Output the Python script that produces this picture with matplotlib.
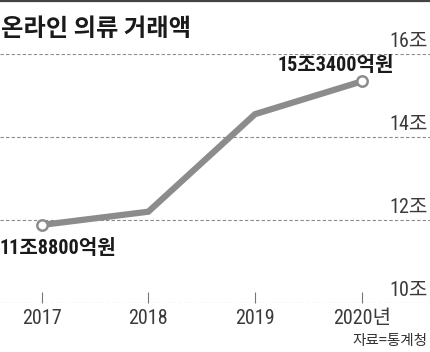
import matplotlib.pyplot as plt
from matplotlib.transforms import blended_transform_factory

# data (조원)
years = [2017, 2018, 2019, 2020]
values = [11.88, 12.2, 14.55, 15.34]
x_labels = ['2017', '2018', '2019', '2020년']
y_ticks = [10, 12, 14, 16]
y_labels = ['10조', '12조', '14조', '16조']
first_label = '11조8800억원'
last_label = '15조3400억원'
title = '온라인 의류 거래액'
source = '자료=통계청'

narrow = ['Roboto Condensed', 'Noto Sans CJK KR', 'DejaVu Sans']
kr = ['Noto Sans CJK KR', 'DejaVu Sans']
plt.rcParams['font.family'] = kr

fig = plt.figure(figsize=(4.3, 3.52), dpi=100)
fig.patch.set_facecolor('white')

# top border
fig.add_artist(plt.Line2D([0, 1], [0.997, 0.997], color='#444444', linewidth=1.6,
                          transform=fig.transFigure))

fig.text(0.003, 0.918, title, fontsize=17.5, fontweight='black', color='#1a1a1a',
         va='center', ha='left', family=kr)

ax = fig.add_axes([0, 49 / 352, 1, 249 / 352])
ax.set_xlim(2016.61, 2020.64)
ax.set_ylim(10, 16)
for s in ax.spines.values():
    s.set_visible(False)

for yv in y_ticks:
    ax.axhline(yv, color='#8a8a8a', linewidth=0.8, linestyle=(0, (3, 2)), zorder=1)

trans = blended_transform_factory(ax.transAxes, ax.transData)
for yv, lab in zip(y_ticks, y_labels):
    ax.text(0.995, yv + 0.08, lab, transform=trans, ha='right', va='bottom',
            fontsize=14.5, fontweight='normal', color='#3a3a3a', family=narrow)

ax.set_yticks([])
ax.set_xticks(years)
ax.set_xticklabels(x_labels, family=narrow, fontsize=14.5, fontweight='normal',
                   color='#3a3a3a')
ax.tick_params(axis='x', direction='in', length=8, width=0.8, color='#777777', pad=4)

ax.plot(years, values, color='#8c8c8c', linewidth=4.5, solid_joinstyle='miter',
        zorder=3, clip_on=False)
ax.plot([years[0], years[-1]], [values[0], values[-1]], 'o', markersize=7.5,
        markerfacecolor='white', markeredgecolor='#8c8c8c', markeredgewidth=1.8,
        zorder=4, clip_on=False)

ax.annotate(first_label, (years[0], values[0]), xytext=(-30, -17),
            textcoords='offset points', fontsize=14.5, fontweight='bold',
            color='#1a1a1a', ha='left', va='center', family=narrow)
ax.annotate(last_label, (years[-1], values[-1]), xytext=(-19, 11.5),
            textcoords='offset points', fontsize=14.5, fontweight='bold',
            color='#1a1a1a', ha='center', va='center', family=narrow)

fig.text(0.995, 0.03, source, fontsize=10.5, color='#333333', ha='right',
         va='center', family=kr)

fig.savefig('out.png', dpi=100, facecolor='white')
plt.close(fig)
